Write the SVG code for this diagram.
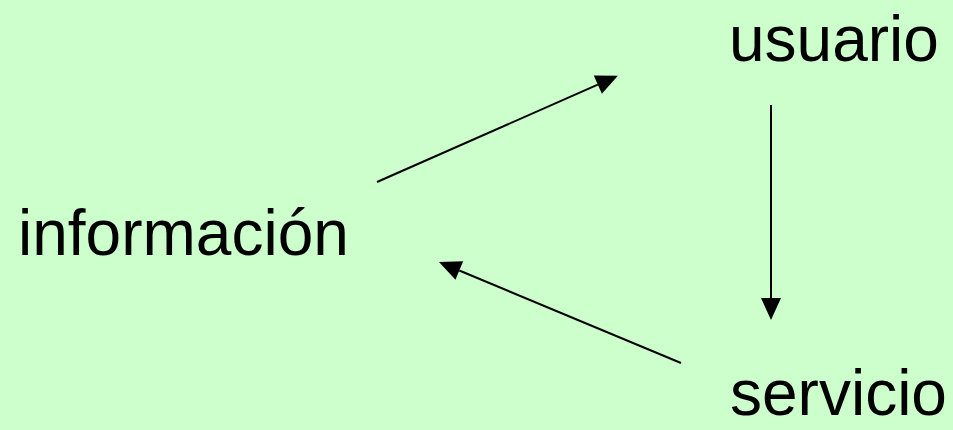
<svg xmlns="http://www.w3.org/2000/svg" width="953" height="430" viewBox="0 0 953 430">
<style>
.lbl{font-family:"Liberation Sans",Arial,sans-serif;font-size:64px;fill:#000}
.conn{stroke:#000;stroke-width:2;fill:none;marker-end:url(#ah)}
</style>
<defs>
<marker id="ah" markerUnits="userSpaceOnUse" markerWidth="22" markerHeight="20" refX="0" refY="10" orient="auto" overflow="visible">
<path d="M0,0 L22,10 L0,20 z" fill="#000"/>
</marker>
</defs>
<rect width="953" height="430" fill="#CCFFCC"/>
<g id="connectors">
<line class="conn" x1="377" y1="182" x2="597.8" y2="84.7"/>
<line class="conn" x1="771" y1="105" x2="771" y2="298"/>
<line class="conn" x1="681" y1="363" x2="459.3" y2="270.5"/>
</g>
<g id="informacion"><text class="lbl" x="18" y="255">información</text></g>
<g id="usuario"><text class="lbl" x="729" y="61">usuario</text></g>
<g id="servicio"><text class="lbl" x="730" y="415">servicio</text></g>
</svg>
